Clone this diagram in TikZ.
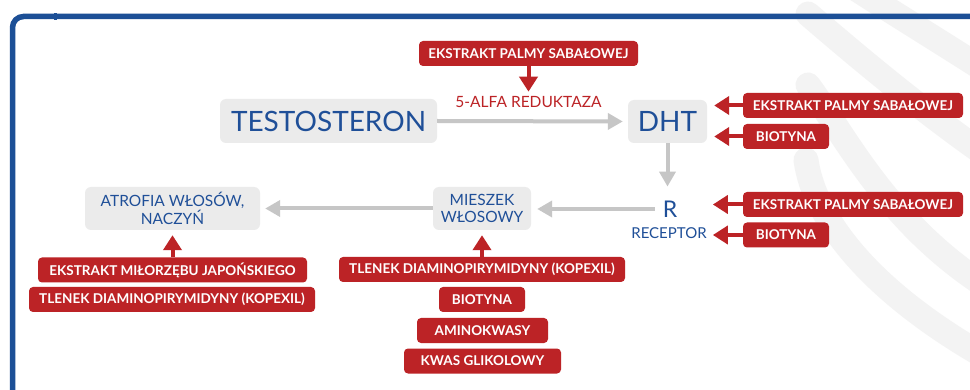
\documentclass[tikz,border=0pt]{standalone}
\usepackage{fontspec}
\setmainfont{Lato}
\usetikzlibrary{arrows.meta}
\definecolor{fblue}{HTML}{1C4F96}
\definecolor{tblue}{HTML}{1F4F98}
\definecolor{rred}{HTML}{BC2326}
\definecolor{gbox}{HTML}{EBEBEB}
\definecolor{garrow}{HTML}{C6C6C6}
\definecolor{bandc}{HTML}{F3F3F3}
\tikzset{
  graybox/.style={fill=gbox, rounded corners=6pt, text=tblue, align=center, inner sep=0pt},
  bigtxt/.style={font=\fontsize{28}{32}\selectfont},
  midtxt/.style={font=\fontsize{15.5}{17.7}\selectfont},
  redbox/.style={fill=rred, rounded corners=4pt, text=white, inner sep=0pt,
    minimum height=25pt, font=\bfseries\fontsize{13.5}{16}\selectfont},
  garr/.style={draw=garrow, line width=4pt, -{Triangle[length=15pt,width=16pt]}},
  rarr/.style={draw=rred, line width=4pt, -{Triangle[length=15pt,width=18pt]}},
  bandline/.style={draw=bandc, line width=25pt, line cap=round}
}
\begin{document}
\begin{tikzpicture}[x=1pt,y=-1pt]
\useasboundingbox (0,0) rectangle (970,390);
\fill[white] (0,0) rectangle (970,390);
% background bands
\begin{scope}
\clip (0,0) rectangle (970,390);
\draw[bandline] (835,-25) .. controls (880,5) and (930,35) .. (1000,80);
\draw[bandline] (808,14) .. controls (850,50) and (920,110) .. (1000,165);
\draw[bandline] (808,85) .. controls (845,135) and (890,230) .. (1000,295);
\draw[bandline] (806,160) .. controls (815,225) and (880,300) .. (1000,365);
\end{scope}
% frame
\draw[fblue, line width=5.5pt, rounded corners=11pt] (12.5,400) -- (12.5,16.5) -- (985,16.5);
\fill[fblue] (53.5,13) rectangle (57,20.5);
% main nodes
\node[graybox, bigtxt, minimum width=217pt, minimum height=44pt] (testo) at (328.5,121) {TESTOSTERON};
\node[graybox, bigtxt, minimum width=79pt, minimum height=43pt] (dht) at (667.5,121.5) {DHT};
\node[graybox, midtxt, minimum width=175pt, minimum height=43pt] (atro) at (172.5,208.5) {ATROFIA WŁOSÓW,\\NACZYŃ};
\node[graybox, midtxt, minimum width=98pt, minimum height=43pt] (mies) at (482,208.5) {MIESZEK\\WŁOSOWY};
\node[text=tblue, inner sep=0pt, font=\fontsize{23}{26}\selectfont] (r) at (670,209) {R};
\node[text=tblue, inner sep=0pt, font=\fontsize{15}{17}\selectfont] (rec) at (669,233) {RECEPTOR};
\node[text=rred, inner sep=0pt, font=\fontsize{15.5}{18}\selectfont] (alfa) at (528.5,102.5) {5-ALFA REDUKTAZA};
% red boxes
\node[redbox, minimum width=219pt] (rb1) at (528.5,53.5) {EKSTRAKT PALMY SABAŁOWEJ};
\node[redbox, minimum width=220pt] (rb2) at (853,105.5) {EKSTRAKT PALMY SABAŁOWEJ};
\node[redbox, minimum width=86pt] (rb3) at (786,136.5) {BIOTYNA};
\node[redbox, minimum width=220pt] (rb4) at (853,204.5) {EKSTRAKT PALMY SABAŁOWEJ};
\node[redbox, minimum width=86pt] (rb5) at (786,235) {BIOTYNA};
\node[redbox, minimum width=269pt] (rb6) at (172.5,270) {EKSTRAKT MIŁORZĘBU JAPOŃSKIEGO};
\node[redbox, minimum width=286pt] (rb7) at (172,299.5) {TLENEK DIAMINOPIRYMIDYNY (KOPEXIL)};
\node[redbox, minimum width=286pt] (rb8) at (482,269.5) {TLENEK DIAMINOPIRYMIDYNY (KOPEXIL)};
\node[redbox, minimum width=86pt] (rb9) at (482,299.5) {BIOTYNA};
\node[redbox, minimum width=131pt] (rb10) at (482.5,330.5) {AMINOKWASY};
\node[redbox, minimum width=157pt] (rb11) at (482.5,361) {KWAS GLIKOLOWY};
% gray connectors
\draw[garr, shorten >=5pt] (testo.east) -- (dht.west);
\draw[garr, shorten >=14pt] (dht.south) -- (dht.south |- r.north);
\draw[garr, shorten <=8pt, shorten >=6pt] (r.west) -- (r.west -| mies.east);
\draw[garr, shorten >=5pt] (mies.west) -- (mies.west -| atro.east);
% red connectors
\draw[rarr, shorten >=5pt] (rb1.south) -- (rb1.south |- alfa.north);
\draw[rarr, shorten >=7pt] (rb2.west) -- (rb2.west -| dht.east);
\draw[rarr, shorten >=7pt] (rb3.west) -- (rb3.west -| dht.east);
\draw[rarr, shorten >=6pt] (rb4.west) -- (rb4.west -| rec.east);
\draw[rarr, shorten >=6pt] (rb5.west) -- (rb5.west -| rec.east);
\draw[rarr, shorten >=5pt] (rb6.north) -- (atro.south);
\draw[rarr, shorten >=5pt] (rb8.north) -- (mies.south);
\end{tikzpicture}
\end{document}
